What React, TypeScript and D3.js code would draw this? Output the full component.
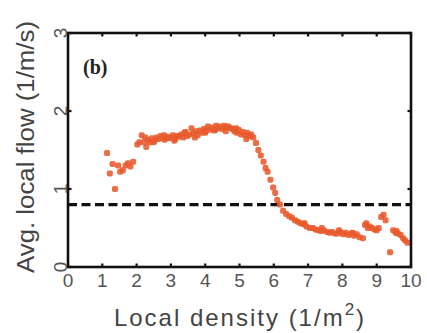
import React from "react";
import * as d3 from "d3";

const xTicks = [0, 1, 2, 3, 4, 5, 6, 7, 8, 9, 10];
const yTicks = [0, 1, 2, 3];
const threshold = 0.8;

const densityX = [
  1.14, 1.22, 1.3, 1.37, 1.46, 1.52, 1.6, 1.68, 1.75, 1.82, 1.9,
  2.02, 2.08, 2.15, 2.22, 2.28, 2.34, 2.39, 2.45, 2.52, 2.58, 2.64, 2.7, 2.76, 2.82, 2.88, 2.94,
  3.0, 3.06, 3.12, 3.18, 3.24, 3.3, 3.36, 3.42, 3.48, 3.54, 3.6, 3.66, 3.72, 3.78, 3.84, 3.9,
  3.96, 4.02, 4.08, 4.14, 4.2, 4.26, 4.32, 4.38, 4.44, 4.5, 4.56, 4.62, 4.68, 4.74, 4.8,
  4.86, 4.92, 4.98, 5.04, 5.1, 5.16, 5.22, 5.28, 5.34, 5.4,
  2.25, 2.5, 2.8, 3.1, 3.4, 3.7, 4.0, 4.3, 4.6, 4.9, 5.2,
  5.48, 5.55, 5.62, 5.7, 5.76, 5.82, 5.9, 5.98, 6.04, 6.1, 6.18, 6.27, 6.36, 6.45, 6.53,
  6.62, 6.7, 6.78, 6.86, 6.95, 7.05, 7.14, 7.22, 7.3, 7.38, 7.46, 7.55, 7.63, 7.7, 7.78,
  7.86, 7.94, 8.02, 8.1, 8.18, 8.26, 8.34, 8.42, 8.5, 8.6, 8.66, 8.74, 8.8, 8.86, 8.94,
  9.0, 9.06, 9.13, 9.2, 9.26, 9.39, 9.48, 9.55, 9.62, 9.7, 9.77, 9.83, 9.9,
  6.9, 7.4, 7.9, 8.3, 8.7, 9.58,
];
const flowY = [
  1.46, 1.2, 1.32, 1.0, 1.3, 1.22, 1.24, 1.3, 1.33, 1.29, 1.35,
  1.57, 1.6, 1.69, 1.6, 1.54, 1.63, 1.6, 1.65, 1.62, 1.66, 1.64, 1.68, 1.65, 1.63, 1.67, 1.65,
  1.66, 1.69, 1.64, 1.68, 1.67, 1.7, 1.66, 1.73, 1.68, 1.7, 1.78, 1.71, 1.74, 1.69, 1.75, 1.72,
  1.77, 1.74, 1.8, 1.76, 1.79, 1.75, 1.81, 1.78, 1.8, 1.77, 1.81, 1.79, 1.8, 1.78, 1.77,
  1.74, 1.72, 1.76, 1.7, 1.73, 1.69, 1.72, 1.68, 1.7, 1.66,
  1.66, 1.6, 1.69, 1.62, 1.72, 1.66, 1.72, 1.76, 1.74, 1.78, 1.64,
  1.59, 1.5, 1.43, 1.35, 1.27, 1.22, 1.12, 1.02, 0.95, 0.86, 0.8, 0.72, 0.68, 0.65, 0.63,
  0.6, 0.58, 0.56, 0.55, 0.52, 0.5, 0.5, 0.48, 0.47, 0.46, 0.47, 0.45, 0.44, 0.45, 0.43,
  0.43, 0.45, 0.42, 0.44, 0.41, 0.43, 0.4, 0.42, 0.38, 0.37, 0.54, 0.5, 0.52, 0.5, 0.48,
  0.47, 0.5, 0.64, 0.67, 0.6, 0.19, 0.47, 0.44, 0.43, 0.41, 0.37, 0.34, 0.31,
  0.56, 0.5, 0.47, 0.44, 0.56, 0.46,
];

export default function App() {
  const W = 427, H = 333;
  const x = d3.scaleLinear().domain([0, 10]).range([68, 411]);
  const y = d3.scaleLinear().domain([0, 3]).range([267, 33]);
  const pts = densityX.map((d, i) => ({ d, v: flowY[i] }));
  const tickColor = "#555";
  const sans = "Liberation Sans, Arial, sans-serif";
  return (
    <svg width={W} height={H} style={{ position: "absolute", left: 0, top: 0, background: "#fff" }}>
      <defs>
        <filter id="blur" x="-20%" y="-20%" width="140%" height="140%">
          <feGaussianBlur stdDeviation="0.6" />
        </filter>
      </defs>
      <rect x={0} y={0} width={W} height={H} fill="#fff" />
      <line x1={x(0)} x2={x(10)} y1={y(threshold)} y2={y(threshold)} stroke="#111" strokeWidth={3.2} strokeDasharray="9,4.5" />
      <g filter="url(#blur)">
        {pts.map((p, i) => (
          <rect key={i} x={x(p.d) - 3} y={y(p.v) - 3} width={6} height={6} rx={1.8}
            fill="#e85a2c" fillOpacity={0.88} />
        ))}
      </g>
      <rect x={x(0)} y={y(3)} width={x(10) - x(0)} height={y(0) - y(3)} fill="none" stroke="#111" strokeWidth={2.6} />
      {xTicks.map((t) => (
        <g key={"xt" + t}>
          <line x1={x(t)} x2={x(t)} y1={y(0)} y2={y(0) - 3.5} stroke="#111" strokeWidth={2.2} />
          <line x1={x(t)} x2={x(t)} y1={y(3)} y2={y(3) + 3.5} stroke="#111" strokeWidth={2.2} />
          <text x={x(t)} y={287} textAnchor="middle" fontFamily={sans} fontSize={19} fill={tickColor}>{t}</text>
        </g>
      ))}
      {yTicks.map((t) => (
        <g key={"yt" + t}>
          <line x1={x(0)} x2={x(0) + 3.5} y1={y(t)} y2={y(t)} stroke="#111" strokeWidth={2.2} />
          <line x1={x(10)} x2={x(10) - 3.5} y1={y(t)} y2={y(t)} stroke="#111" strokeWidth={2.2} />
          <text transform={`translate(${67},${y(t)}) rotate(-90)`} textAnchor="middle" fontFamily={sans} fontSize={19} fill={tickColor}>{t}</text>
        </g>
      ))}
      <text x={83} y={74} fontFamily="Liberation Serif, serif" fontWeight="bold" fontSize={20} fill="#222">(b)</text>
      <text x={240} y={326} textAnchor="middle" fontFamily={sans} fontSize={24} letterSpacing={2} fill="#444">
        Local density (1/m<tspan dy={-11} fontSize={17}>2</tspan><tspan dy={11}>)</tspan>
      </text>
      <text transform={`translate(${34},${147}) rotate(-90)`} textAnchor="middle" fontFamily={sans} fontSize={23} fill="#444"
        textLength={252} lengthAdjust="spacingAndGlyphs">
        Avg. local flow (1/m/s)
      </text>
    </svg>
  );
}
